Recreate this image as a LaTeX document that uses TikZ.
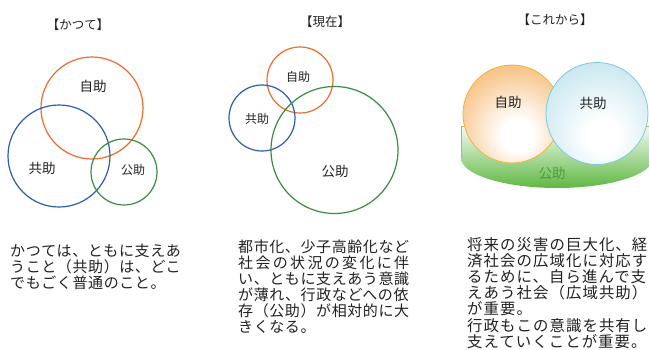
\documentclass[tikz,border=0pt]{standalone}
\usepackage{fontspec}
\newfontfamily\jp{Noto Sans CJK JP}
\newfontfamily\jpt[LetterSpace=4]{Noto Sans CJK JP}
\newfontfamily\jpu[LetterSpace=7]{Noto Sans CJK JP}
\definecolor{ink}{HTML}{222222}
\definecolor{cOrange}{HTML}{EE6C2C}
\definecolor{cBlue}{HTML}{2D5DB0}
\definecolor{cGreen}{HTML}{3B8C42}
\definecolor{oEdge}{HTML}{F2A045}
\definecolor{oMid}{HTML}{F8C890}
\definecolor{oLine}{HTML}{F3B140}
\definecolor{bEdge}{HTML}{A2D7E7}
\definecolor{bMid}{HTML}{CFEAF2}
\definecolor{bLine}{HTML}{7CCAD9}
\definecolor{gBot}{HTML}{5FB843}
\definecolor{gTop}{HTML}{F4FAF1}
\definecolor{gLine}{HTML}{8CCB6E}
\definecolor{gText}{HTML}{4C9A3C}
\pgfdeclareradialshading{sphereO}{\pgfpoint{3bp}{-12bp}}{color(0bp)=(white); color(8bp)=(white); color(30bp)=(oMid); color(52bp)=(oEdge); color(80bp)=(oEdge)}
\pgfdeclareradialshading{sphereB}{\pgfpoint{3bp}{-12bp}}{color(0bp)=(white); color(8bp)=(white); color(30bp)=(bMid); color(52bp)=(bEdge); color(80bp)=(bEdge)}
\newlength\lineW
\begin{document}
\settowidth{\lineW}{\jpt\fontsize{15}{16}\selectfont 都市化、少子高齢化など}%
\begin{tikzpicture}[x=1pt,y=-1pt,
  ttl/.style={font=\jp\fontsize{12.5}{14}\selectfont, text=ink, inner sep=0pt},
  lbig/.style={font=\jp\fontsize{13.5}{15}\selectfont, text=ink, inner sep=0pt},
  lsmall/.style={font=\jp\fontsize{12}{14}\selectfont, text=ink, inner sep=0pt},
  txt/.style={font=\jpt\fontsize{15}{16}\selectfont, text=ink, inner sep=0pt, anchor=base west},
  txtb/.style={font=\jpu\fontsize{15.4}{16}\selectfont, text=ink, inner sep=0pt, anchor=base west},
  ring/.style={line width=1.2pt}]
\useasboundingbox (0,0) rectangle (649,349);
\fill[white] (0,0) rectangle (649,349);

% ---------- panel 1 ----------
\node[ttl] (t1) at (78,25) {【かつて】};
\draw[ring, cOrange] (92,108) circle[radius=51pt];
\draw[ring, cBlue] (59,156) circle[radius=51pt];
\draw[ring, cGreen] (124,172) circle[radius=33pt];
\node[lbig] (p1a) at (93,86) {自助};
\node[lbig] (p1b) at (42,168) {共助};
\node[lsmall] (p1c) at (133,170) {公助};

% ---------- panel 2 ----------
\node[ttl] (t2) at (325,22) {【現在】};
\draw[ring, cOrange] (300,80) circle[radius=33pt];
\draw[ring, cBlue] (262,118) circle[radius=33pt];
\draw[ring, cGreen] (334.5,150) circle[radius=63.5pt];
\node[lsmall] (p2a) at (298,77) {自助};
\node[lsmall] (p2b) at (257,119) {共助};
\node[lbig] (p2c) at (335,171) {公助};

% ---------- panel 3 ----------
\node[ttl] (t3) at (555,20) {【これから】};
\begin{scope}
\clip (0,0) rectangle (649,349);
\shade[top color=gTop, bottom color=gBot, middle color=gTop!50!gBot]
  (461,126) -- (461,158) arc[start angle=180, end angle=360, x radius=96pt, y radius=30pt] -- (653,126) -- cycle;
\draw[gLine, line width=0.8pt] (653,126) -- (461,126) -- (461,158);
\end{scope}
\shade[shading=sphereO] (512,114) circle[radius=49pt];
\draw[oLine, line width=0.8pt] (512,114) circle[radius=49pt];
\shade[shading=sphereB] (597,113.5) circle[radius=51pt];
\draw[bLine, line width=0.8pt] (597,113.5) circle[radius=51pt];
\node[lbig] (p3a) at (508,102) {自助};
\node[lbig] (p3b) at (593,103) {共助};
\node[lbig, text=gText] (p3c) at (552,173) {公助};

% ---------- texts ----------
\foreach \s [count=\i] in {かつては、ともに支えあ, うこと（共助）は、どこ, でもごく普通のこと。}
  \node[txt] (a\i) at (10,256+16*\i-16) {\s};

\node[txt] (b1) at (238,252) {都市化、少子高齢化など};
\node[txt] (b2) at (238,268) {\makebox[\lineW][s]{社\hfill 会\hfill の\hfill 状\hfill 況\hfill の\hfill 変\hfill 化\hfill に\hfill 伴}};
\foreach \s [count=\i from 3] in {い、ともに支えあう意識, が薄れ、行政などへの依, 存（公助）が相対的に大, きくなる。}
  \node[txt] (b\i) at (238,252+16*\i-16) {\s};

\foreach \s [count=\i] in {将来の災害の巨大化、経, 済社会の広域化に対応す, るために、自ら進んで支, えあう社会（広域共助）, が重要。, 行政もこの意識を共有し, 支えていくことが重要。}
  \node[txtb] (c\i) at (467,250+16.2*\i-16.2) {\s};
\end{tikzpicture}
\end{document}
